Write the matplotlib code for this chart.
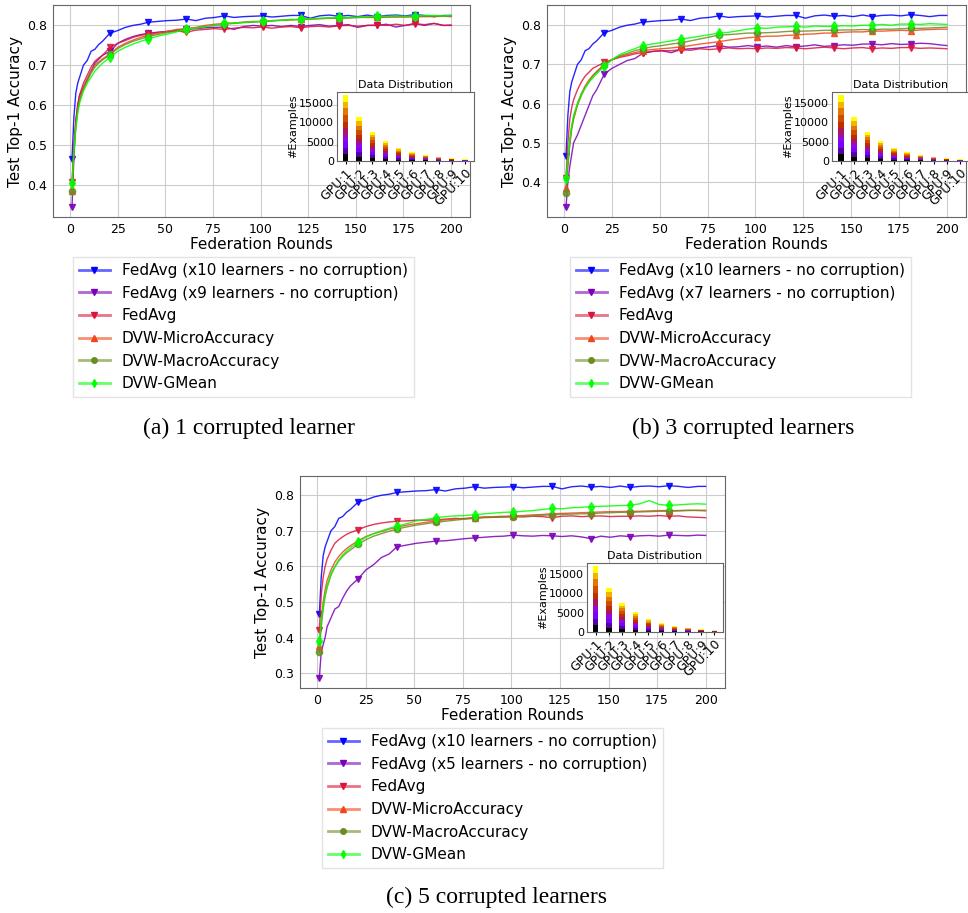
import numpy as np
import matplotlib
matplotlib.use("Agg")
import matplotlib.pyplot as plt
from matplotlib.colors import to_rgba

rounds = [1, 2, 3, 4, 5, 7, 9, 11, 13, 15, 17,
          21, 25, 29, 33, 37,
          41, 46, 51, 56, 61, 66, 71, 76, 81, 86,
          91, 96, 101, 106, 111, 116, 121, 126, 131, 136,
          141, 146, 151, 156, 161, 166, 171, 176, 181, 186,
          191, 196, 200]

# same baseline in all three panels
fedavg_x10 = [0.465, 0.57, 0.63, 0.655, 0.67, 0.70, 0.712, 0.735, 0.74, 0.752, 0.76,
              0.781, 0.787, 0.795, 0.80, 0.803,
              0.808, 0.81, 0.812, 0.813, 0.816, 0.812, 0.818, 0.82, 0.824, 0.82,
              0.822, 0.823, 0.824, 0.821, 0.823, 0.825, 0.825, 0.818, 0.824, 0.826,
              0.823, 0.825, 0.822, 0.826, 0.822, 0.825, 0.826, 0.824, 0.827, 0.825,
              0.822, 0.825, 0.825]

#### (a) 1 corrupted learner ####
a_fedavg_x9 = [0.343, 0.47, 0.56, 0.60, 0.625, 0.645, 0.665, 0.685, 0.705, 0.715, 0.725,
               0.735, 0.755, 0.765, 0.772, 0.777,
               0.78, 0.783, 0.785, 0.788, 0.79, 0.792, 0.794, 0.795, 0.796, 0.79,
               0.797, 0.80, 0.798, 0.80, 0.797, 0.80, 0.797, 0.80, 0.802, 0.798,
               0.80, 0.802, 0.795, 0.80, 0.80, 0.803, 0.796, 0.80, 0.805, 0.80,
               0.805, 0.80, 0.80]
a_fedavg = [0.408, 0.50, 0.56, 0.60, 0.625, 0.655, 0.675, 0.695, 0.71, 0.718, 0.725,
            0.745, 0.755, 0.762, 0.77, 0.775,
            0.778, 0.782, 0.784, 0.786, 0.783, 0.788, 0.79, 0.792, 0.79, 0.793,
            0.795, 0.794, 0.796, 0.793, 0.796, 0.797, 0.794, 0.797, 0.798, 0.796,
            0.799, 0.80, 0.798, 0.80, 0.801, 0.80, 0.803, 0.80, 0.804, 0.802,
            0.805, 0.80, 0.801]
a_micro = [0.384, 0.49, 0.55, 0.59, 0.615, 0.645, 0.665, 0.685, 0.70, 0.708, 0.716,
           0.728, 0.745, 0.755, 0.763, 0.77,
           0.775, 0.78, 0.785, 0.79, 0.792, 0.795, 0.80, 0.803, 0.805, 0.806,
           0.808, 0.81, 0.81, 0.812, 0.813, 0.814, 0.815, 0.816, 0.817, 0.818,
           0.818, 0.819, 0.82, 0.82, 0.82, 0.821, 0.821, 0.821, 0.822, 0.822,
           0.822, 0.823, 0.822]
a_macro = [0.383, 0.48, 0.545, 0.585, 0.61, 0.64, 0.66, 0.68, 0.695, 0.705, 0.713,
           0.727, 0.742, 0.752, 0.76, 0.766,
           0.772, 0.777, 0.782, 0.786, 0.79, 0.793, 0.797, 0.80, 0.803, 0.805,
           0.807, 0.808, 0.81, 0.811, 0.813, 0.814, 0.815, 0.816, 0.817, 0.818,
           0.819, 0.819, 0.82, 0.821, 0.821, 0.821, 0.822, 0.822, 0.822, 0.823,
           0.823, 0.823, 0.823]
a_gmean = [0.405, 0.48, 0.54, 0.58, 0.605, 0.635, 0.655, 0.67, 0.685, 0.695, 0.705,
           0.72, 0.735, 0.745, 0.753, 0.76,
           0.766, 0.773, 0.778, 0.784, 0.79, 0.793, 0.797, 0.80, 0.805, 0.806,
           0.808, 0.809, 0.81, 0.812, 0.813, 0.815, 0.815, 0.817, 0.818, 0.819,
           0.82, 0.82, 0.821, 0.822, 0.823, 0.823, 0.824, 0.823, 0.824, 0.825,
           0.825, 0.824, 0.825]

#### (b) 3 corrupted learners ####
b_fedavg_x7 = [0.335, 0.40, 0.44, 0.47, 0.50, 0.52, 0.545, 0.57, 0.595, 0.62, 0.635,
               0.675, 0.69, 0.70, 0.71, 0.715,
               0.728, 0.733, 0.735, 0.73, 0.738, 0.74, 0.742, 0.745, 0.748, 0.744,
               0.745, 0.748, 0.745, 0.747, 0.744, 0.748, 0.745, 0.747, 0.75, 0.746,
               0.748, 0.75, 0.749, 0.752, 0.752, 0.75, 0.753, 0.751, 0.752, 0.754,
               0.753, 0.75, 0.748]
b_fedavg = [0.41, 0.50, 0.56, 0.59, 0.61, 0.635, 0.655, 0.67, 0.68, 0.69, 0.695,
            0.705, 0.712, 0.718, 0.722, 0.727,
            0.73, 0.733, 0.735, 0.735, 0.738, 0.736, 0.74, 0.738, 0.74, 0.742,
            0.74, 0.741, 0.74, 0.742, 0.741, 0.743, 0.742, 0.74, 0.742, 0.744,
            0.742, 0.74, 0.742, 0.743, 0.74, 0.742, 0.741, 0.743, 0.743, 0.741,
            0.742, 0.741, 0.74]
b_micro = [0.385, 0.45, 0.50, 0.54, 0.565, 0.60, 0.625, 0.645, 0.66, 0.672, 0.682,
           0.70, 0.712, 0.72, 0.725, 0.73,
           0.735, 0.738, 0.74, 0.742, 0.745, 0.748, 0.752, 0.755, 0.758, 0.762,
           0.765, 0.768, 0.77, 0.772, 0.772, 0.774, 0.775, 0.777, 0.778, 0.78,
           0.78, 0.782, 0.783, 0.783, 0.785, 0.785, 0.786, 0.787, 0.786, 0.788,
           0.789, 0.79, 0.79]
b_macro = [0.372, 0.44, 0.495, 0.535, 0.56, 0.595, 0.62, 0.64, 0.655, 0.67, 0.68,
           0.698, 0.712, 0.722, 0.728, 0.735,
           0.74, 0.745, 0.748, 0.752, 0.755, 0.76, 0.765, 0.77, 0.775, 0.776,
           0.778, 0.78, 0.78, 0.781, 0.782, 0.784, 0.785, 0.785, 0.786, 0.787,
           0.787, 0.788, 0.788, 0.789, 0.788, 0.79, 0.79, 0.791, 0.792, 0.792,
           0.793, 0.794, 0.795]
b_gmean = [0.41, 0.46, 0.51, 0.545, 0.57, 0.60, 0.625, 0.64, 0.655, 0.665, 0.676,
           0.695, 0.712, 0.725, 0.733, 0.74,
           0.748, 0.752, 0.756, 0.76, 0.765, 0.768, 0.772, 0.776, 0.78, 0.782,
           0.786, 0.79, 0.793, 0.792, 0.795, 0.796, 0.797, 0.795, 0.798, 0.797,
           0.797, 0.799, 0.798, 0.80, 0.80, 0.802, 0.80, 0.803, 0.803, 0.802,
           0.804, 0.803, 0.802]

#### (c) 5 corrupted learners ####
c_fedavg_x5 = [0.285, 0.36, 0.38, 0.40, 0.43, 0.455, 0.48, 0.487, 0.51, 0.53, 0.545,
               0.565, 0.59, 0.605, 0.625, 0.635,
               0.655, 0.66, 0.665, 0.668, 0.671, 0.672, 0.675, 0.678, 0.68, 0.682,
               0.684, 0.685, 0.688, 0.686, 0.685, 0.687, 0.686, 0.684, 0.686, 0.683,
               0.678, 0.685, 0.682, 0.686, 0.684, 0.686, 0.687, 0.685, 0.688, 0.687,
               0.686, 0.688, 0.687]
c_fedavg = [0.42, 0.52, 0.57, 0.60, 0.62, 0.645, 0.665, 0.675, 0.683, 0.69, 0.695,
            0.703, 0.712, 0.718, 0.722, 0.725,
            0.727, 0.728, 0.73, 0.73, 0.731, 0.733, 0.735, 0.734, 0.737, 0.738,
            0.738, 0.739, 0.74, 0.739, 0.741, 0.74, 0.737, 0.741, 0.742, 0.74,
            0.741, 0.742, 0.74, 0.741, 0.741, 0.742, 0.741, 0.743, 0.741, 0.742,
            0.739, 0.738, 0.737]
c_micro = [0.375, 0.45, 0.50, 0.535, 0.56, 0.59, 0.612, 0.628, 0.64, 0.65, 0.658,
           0.672, 0.684, 0.692, 0.698, 0.705,
           0.71, 0.716, 0.72, 0.724, 0.728, 0.731, 0.733, 0.735, 0.737, 0.739,
           0.74, 0.741, 0.742, 0.743, 0.745, 0.746, 0.748, 0.749, 0.75, 0.751,
           0.752, 0.753, 0.754, 0.754, 0.755, 0.755, 0.756, 0.757, 0.757, 0.757,
           0.758, 0.757, 0.756]
c_macro = [0.358, 0.43, 0.48, 0.515, 0.54, 0.575, 0.598, 0.615, 0.628, 0.638, 0.646,
           0.662, 0.675, 0.685, 0.692, 0.699,
           0.705, 0.711, 0.716, 0.72, 0.724, 0.727, 0.73, 0.733, 0.735, 0.737,
           0.738, 0.739, 0.74, 0.741, 0.742, 0.744, 0.745, 0.746, 0.747, 0.748,
           0.748, 0.75, 0.751, 0.752, 0.752, 0.753, 0.754, 0.755, 0.755, 0.756,
           0.757, 0.758, 0.758]
c_gmean = [0.39, 0.45, 0.49, 0.52, 0.545, 0.58, 0.60, 0.618, 0.632, 0.643, 0.652,
           0.668, 0.682, 0.692, 0.70, 0.707,
           0.713, 0.72, 0.728, 0.732, 0.737, 0.74, 0.742, 0.743, 0.745, 0.748,
           0.75, 0.752, 0.753, 0.755, 0.757, 0.76, 0.763, 0.762, 0.765, 0.766,
           0.768, 0.769, 0.77, 0.771, 0.772, 0.776, 0.785, 0.774, 0.772, 0.773,
           0.775, 0.776, 0.775]

# inset: examples held by each learner (10 classes, stacked)
gpu_names = ["GPU:1", "GPU:2", "GPU:3", "GPU:4", "GPU:5",
             "GPU:6", "GPU:7", "GPU:8", "GPU:9", "GPU:10"]
gpu_examples = [17000, 11400, 7600, 5100, 3300, 2200, 1450, 1000, 650, 420]
n_classes = 10

colors = ["#0000ff", "#7a00b8", "#dc143c", "#f0461a", "#6b8e23", "#00ff00"]
markers = ["v", "v", "v", "^", "o", "d"]
msizes = [5, 5, 5, 5, 4.5, 5]

x = np.array(rounds)
mark_idx = list(np.nonzero((x - 1) % 20 == 0)[0])
class_colors = plt.cm.gnuplot(np.linspace(0, 1, n_classes))

fig = plt.figure(figsize=(9.68, 9.13), dpi=100)


def panel(ax_box, inset_box, curves, labels, leg_xy, caption, cap_xy):
    ax = fig.add_axes(ax_box)
    for y, lab, c, m, ms in zip(curves, labels, colors, markers, msizes):
        ax.plot(x, y, color=c, marker=m, markersize=ms, markevery=mark_idx,
                lw=1, alpha=0.85, label=lab)
    ax.grid(True, color="#cccccc", lw=0.8)
    ax.set_axisbelow(True)
    ax.set_xlabel("Federation Rounds", fontsize=11, labelpad=1)
    ax.set_ylabel("Test Top-1 Accuracy", fontsize=11, labelpad=3)
    ax.tick_params(labelsize=9, length=0, pad=4)
    for s in ax.spines.values():
        s.set_color("#666666")

    leg = ax.legend(loc="upper left", bbox_to_anchor=leg_xy,
                    bbox_transform=fig.transFigure, fontsize=11, fancybox=False,
                    edgecolor="#dddddd", borderaxespad=0, labelspacing=0.5,
                    handlelength=2.0)
    # lighter handle lines, solid markers
    for h, c in zip(leg.get_lines(), colors):
        h.set_alpha(None)
        h.set_linewidth(2)
        h.set_color(to_rgba(c, 0.6))
        h.set_markerfacecolor(c)
        h.set_markeredgecolor(c)
        h.set_markersize(4)

    ins = fig.add_axes(inset_box)
    pos = np.arange(len(gpu_names))
    tot = np.array(gpu_examples, dtype=float)
    bottom = np.zeros(len(pos))
    for k in range(n_classes):
        ins.bar(pos, tot / n_classes, bottom=bottom, width=0.4,
                color=class_colors[k])
        bottom += tot / n_classes
    ins.set_xticks(pos)
    ins.set_xticklabels(gpu_names, rotation=45, ha="right",
                        rotation_mode="anchor", fontsize=9)
    ins.set_yticks([0, 5000, 10000, 15000])
    ins.tick_params(axis="y", labelsize=8, length=0, pad=2)
    ins.tick_params(axis="x", length=2, pad=2)
    ins.set_ylabel("#Examples", fontsize=8, labelpad=1)
    ins.set_title("Data Distribution", fontsize=8, pad=3)
    for s in ins.spines.values():
        s.set_color("#666666")

    fig.text(cap_xy[0], cap_xy[1], caption, ha="center", va="center",
             family="Liberation Serif", fontsize=17)


base = ["FedAvg (x10 learners - no corruption)", None, "FedAvg",
        "DVW-MicroAccuracy", "DVW-MacroAccuracy", "DVW-GMean"]

lab_a = list(base)
lab_a[1] = "FedAvg (x9 learners - no corruption)"
panel([0.0548, 0.7623, 0.4308, 0.2322], [0.3481, 0.8237, 0.1415, 0.0756],
      [fedavg_x10, a_fedavg_x9, a_fedavg, a_micro, a_macro, a_gmean], lab_a,
      (0.0754, 0.7185), "(a) 1 corrupted learner", (0.2572, 0.531))

lab_b = list(base)
lab_b[1] = "FedAvg (x7 learners - no corruption)"
panel([0.565, 0.7623, 0.4329, 0.2322], [0.8595, 0.8237, 0.1415, 0.0756],
      [fedavg_x10, b_fedavg_x7, b_fedavg, b_micro, b_macro, b_gmean], lab_b,
      (0.5888, 0.7185), "(b) 3 corrupted learners", (0.7676, 0.531))

lab_c = list(base)
lab_c[1] = "FedAvg (x5 learners - no corruption)"
panel([0.3099, 0.2464, 0.439, 0.2322], [0.6064, 0.3078, 0.1405, 0.0756],
      [fedavg_x10, c_fedavg_x5, c_fedavg, c_micro, c_macro, c_gmean], lab_c,
      (0.3326, 0.2026), "(c) 5 corrupted learners", (0.5124, 0.0175))

fig.savefig("out.png", dpi=100)
